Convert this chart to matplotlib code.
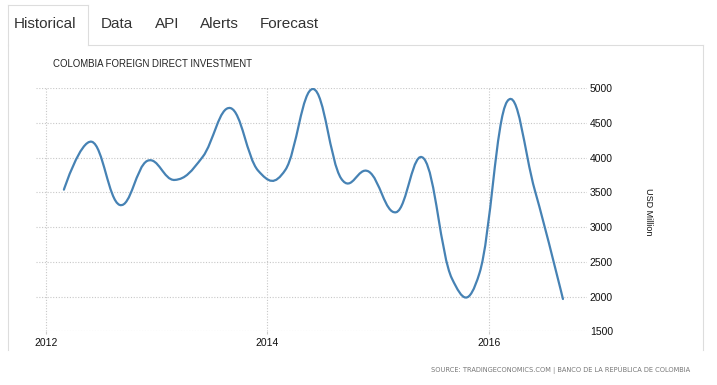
import matplotlib
matplotlib.use("Agg")
import matplotlib.pyplot as plt
import matplotlib.dates as mdates
from matplotlib.path import Path
from matplotlib.patches import PathPatch
from matplotlib.lines import Line2D
from matplotlib import font_manager
import pandas as pd

# Quarterly readings (USD million)
dates = pd.date_range("2012-03-01", periods=19, freq="3MS")
fdi = [3540, 4230, 3320, 3955, 3680, 4010, 4715, 3815, 3825, 4990,
       3700, 3800, 3215, 3985, 2260, 2340, 4810, 3520, 1965]
y_ticks = [1500, 2000, 2500, 3000, 3500, 4000, 4500, 5000]
x_ticks = ["2012", "2014", "2016"]
tabs = ["Historical", "Data", "API", "Alerts", "Forecast"]

W, H = 717, 385
plt.rcParams["font.family"] = ["Liberation Sans", "DejaVu Sans"]

# condensed face for the source line, if one is installed
fonts = font_manager.fontManager.ttflist
names = {f.name for f in fonts}
if "Liberation Sans Narrow" in names:
    src_font = dict(family=["Liberation Sans Narrow", "DejaVu Sans"], fontsize=6)
elif any(f.name == "DejaVu Sans" and f.stretch == "condensed" for f in fonts):
    src_font = dict(family=["DejaVu Sans"], fontstretch="condensed", fontsize=5.3)
else:
    src_font = dict(fontsize=5.0)


def fx(x):
    return x / W


def fy(y):
    return 1 - y / H


def spline_path(xs, ys, smoothing=1.5):
    # highcharts style bezier spline
    n = len(xs)
    left = [(xs[i], ys[i]) for i in range(n)]
    right = [(xs[i], ys[i]) for i in range(n)]
    for i in range(1, n - 1):
        px, py = xs[i], ys[i]
        lx, ly = xs[i - 1], ys[i - 1]
        nx, ny = xs[i + 1], ys[i + 1]
        d = smoothing + 1
        lcx, lcy = (smoothing * px + lx) / d, (smoothing * py + ly) / d
        rcx, rcy = (smoothing * px + nx) / d, (smoothing * py + ny) / d
        corr = (rcy - lcy) * (rcx - px) / (rcx - lcx) + py - rcy
        left[i] = (lcx, lcy + corr)
        right[i] = (rcx, rcy + corr)
    verts = [(xs[0], ys[0])]
    codes = [Path.MOVETO]
    for i in range(1, n):
        verts += [right[i - 1], left[i], (xs[i], ys[i])]
        codes += [Path.CURVE4] * 3
    return Path(verts, codes)


fig = plt.figure(figsize=(W / 100, H / 100), dpi=100)

# plot area in pixels: x 36..587, y 88.3..331.3
ax = fig.add_axes([fx(36), fy(331.3), (587 - 36) / W, 243 / H])
base = mdates.date2num(pd.Timestamp("2012-01-01"))
ax.set_xlim(base - 0.0875 * 365.25, base + 4.885 * 365.25)
ax.set_ylim(1500, 5000)

xnum = mdates.date2num(dates)
ax.add_patch(PathPatch(spline_path(list(xnum), list(fdi)), facecolor="none",
                       edgecolor="#4682b4", lw=1.6, capstyle="round", zorder=3))

for s in ax.spines.values():
    s.set_visible(False)
ax.set_yticks(y_ticks)
ax.set_yticklabels([str(v) for v in y_ticks])
ax.yaxis.tick_right()
ax.set_xticks([mdates.date2num(pd.Timestamp(t + "-01-01")) for t in x_ticks])
ax.set_xticklabels(x_ticks)
ax.tick_params(axis="y", length=0, pad=2, labelsize=7.5, labelcolor="#111")
ax.tick_params(axis="x", length=2, color="#ccc", pad=3, labelsize=7.5, labelcolor="#111")
ax.grid(True, color="#c8c8c8", lw=0.8, linestyle=(0, (1, 1.5)))
ax.set_axisbelow(True)

fig.text(fx(648), fy(212), "USD Million", rotation=270, ha="center", va="center",
         fontsize=6.5, color="#111")

# title and source
fig.text(fx(53), fy(64), "COLOMBIA FOREIGN DIRECT INVESTMENT", ha="left", va="center",
         fontsize=6.9, color="#222")
fig.text(fx(690), fy(370), "SOURCE: TRADINGECONOMICS.COM | BANCO DE LA REPÚBLICA DE COLOMBIA",
         ha="right", va="center", color="#777", **src_font)

# tab bar
border = "#dddddd"
for xs_, ys_ in [([8, 8], [45, 5]), ([8, 88], [5, 5]), ([88, 88], [5, 45]),
                 ([88, 703], [45, 45]), ([8, 8], [45, 350]), ([703, 703], [45, 350])]:
    fig.add_artist(Line2D([fx(v) for v in xs_], [fy(v) for v in ys_],
                          color=border, lw=0.8, transform=fig.transFigure))
tab_x = [14, 101, 155, 200, 260]
for name, x in zip(tabs, tab_x):
    fig.text(fx(x), fy(24), name, ha="left", va="center", fontsize=11, color="#333")

fig.savefig("out.png", dpi=100)
